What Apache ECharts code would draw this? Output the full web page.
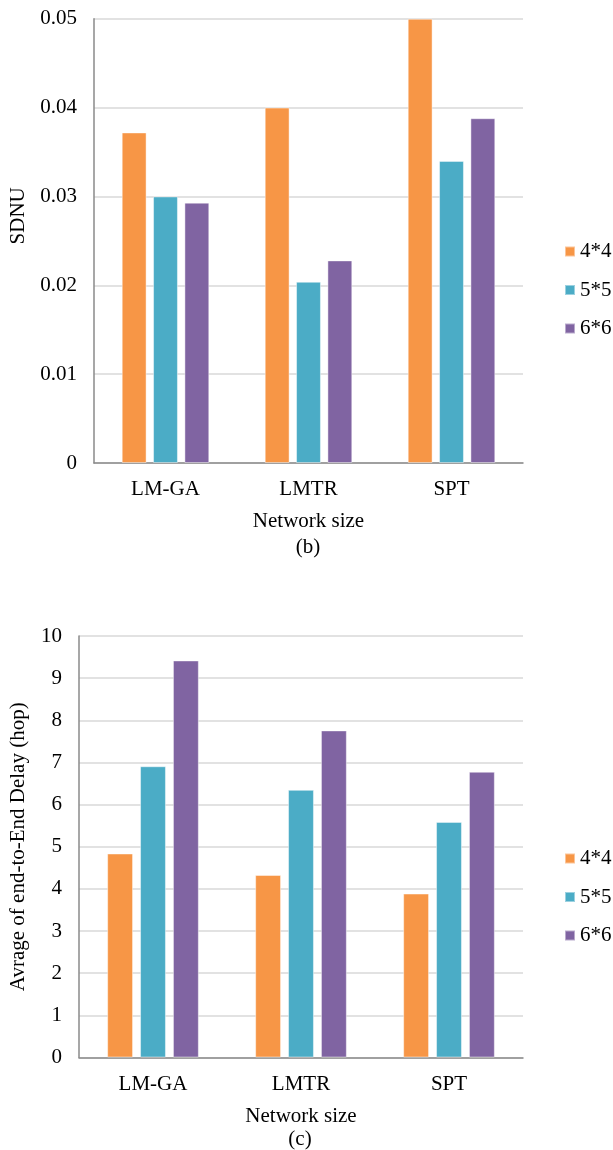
<!DOCTYPE html>
<html>
<head>
<meta charset="utf-8">
<script src="https://cdn.jsdelivr.net/npm/echarts@6/dist/echarts.min.js"></script>
<style>
html,body{margin:0;padding:0;background:#fff;}
#c{width:613px;height:1150px;}
</style>
</head>
<body>
<div id="c"></div>
<script>
const categories = ['LM-GA', 'LMTR', 'SPT'];
const seriesNames = ['4*4', '5*5', '6*6'];
const colors = ['#F79646', '#4BACC6', '#8064A2'];

// Chart (b): SDNU
const sdnu44 = [0.0372, 0.0400, 0.0500];
const sdnu55 = [0.0300, 0.0204, 0.0340];
const sdnu66 = [0.0293, 0.0228, 0.0388];

// Chart (c): Average end-to-end delay (hop)
const delay44 = [4.84, 4.33, 3.89];
const delay55 = [6.91, 6.35, 5.59];
const delay66 = [9.42, 7.76, 6.78];

const FONT = "'Liberation Serif', 'Times New Roman', serif";
const FS = 21;
const txt = {fontFamily: FONT, fontSize: FS, color: '#000'};

const chart = echarts.init(document.getElementById('c'), null, {renderer: 'canvas'});

function xAxisFor(gridIndex) {
  return {
    type: 'category', gridIndex: gridIndex, data: categories,
    name: 'Network size', nameLocation: 'middle', nameGap: 48,
    nameTextStyle: txt,
    axisLine: {show: true, lineStyle: {color: '#8a8a8a', width: 1.5}},
    axisTick: {show: false},
    axisLabel: Object.assign({margin: 16}, txt),
    splitLine: {show: false}
  };
}

const barBorder = {borderColor: 'rgba(255,255,255,0.45)', borderWidth: 1};

const option = {
  animation: false,
  backgroundColor: '#fff',
  color: colors,
  title: [
    {text: '(b)', left: 308, top: 537, padding: 0, textAlign: 'center', textStyle: Object.assign({fontWeight: 'normal'}, txt)},
    {text: '(c)', left: 300, top: 1129, padding: 0, textAlign: 'center', textStyle: Object.assign({fontWeight: 'normal'}, txt)}
  ],
  legend: [
    {data: seriesNames, orient: 'vertical', left: 564, top: 241, padding: 0, itemWidth: 10, itemHeight: 10,
     itemGap: 17.5, icon: 'rect', textStyle: txt, selectedMode: false},
    {data: seriesNames, orient: 'vertical', left: 564, top: 848, padding: 0, itemWidth: 10, itemHeight: 10,
     itemGap: 17.5, icon: 'rect', textStyle: txt, selectedMode: false}
  ],
  grid: [
    {left: 93, right: 90, top: 18.7, height: 444.3, containLabel: false},
    {left: 77.7, right: 90, top: 636, height: 421.5, containLabel: false}
  ],
  xAxis: [xAxisFor(0), xAxisFor(1)],
  yAxis: [
    {
      type: 'value', gridIndex: 0, min: 0, max: 0.05, interval: 0.01,
      name: 'SDNU', nameLocation: 'middle', nameGap: 65,
      nameTextStyle: Object.assign({padding: [0, 0, 0, 50]}, txt),
      axisLine: {show: true, lineStyle: {color: '#8a8a8a', width: 1.5}},
      axisTick: {show: false},
      axisLabel: Object.assign({margin: 17}, txt),
      splitLine: {show: true, lineStyle: {color: '#d9d9d9', width: 1.5}}
    },
    {
      type: 'value', gridIndex: 1, min: 0, max: 10, interval: 1,
      name: 'Avrage of end-to-End Delay (hop)', nameLocation: 'middle', nameGap: 50,
      nameTextStyle: txt,
      axisLine: {show: true, lineStyle: {color: '#8a8a8a', width: 1.5}},
      axisTick: {show: false},
      axisLabel: Object.assign({margin: 17}, txt),
      splitLine: {show: true, lineStyle: {color: '#d9d9d9', width: 1.5}}
    }
  ],
  series: [
    {name: seriesNames[0], type: 'bar', xAxisIndex: 0, yAxisIndex: 0, data: sdnu44, barWidth: '17.4%', barGap: '26%', itemStyle: barBorder},
    {name: seriesNames[1], type: 'bar', xAxisIndex: 0, yAxisIndex: 0, data: sdnu55, barWidth: '17.4%', barGap: '26%', itemStyle: barBorder},
    {name: seriesNames[2], type: 'bar', xAxisIndex: 0, yAxisIndex: 0, data: sdnu66, barWidth: '17.4%', barGap: '26%', itemStyle: barBorder},
    {name: seriesNames[0], type: 'bar', xAxisIndex: 1, yAxisIndex: 1, data: delay44, barWidth: '17.5%', barGap: '27%', itemStyle: barBorder},
    {name: seriesNames[1], type: 'bar', xAxisIndex: 1, yAxisIndex: 1, data: delay55, barWidth: '17.5%', barGap: '27%', itemStyle: barBorder},
    {name: seriesNames[2], type: 'bar', xAxisIndex: 1, yAxisIndex: 1, data: delay66, barWidth: '17.5%', barGap: '27%', itemStyle: barBorder}
  ]
};
chart.setOption(option);
</script>
</body>
</html>
